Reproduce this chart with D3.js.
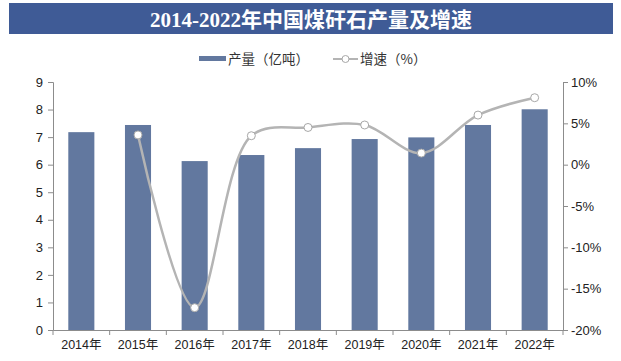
<!DOCTYPE html>
<html>
<head>
<meta charset="utf-8">
<script src="https://cdn.jsdelivr.net/npm/d3@7"></script>
<style>
  body { margin: 0; background: #fff; }
  svg text { font-family: "Liberation Sans", Arial, "Noto Sans CJK SC", sans-serif; }
</style>
</head>
<body>
<div id="chart"></div>
<script>
const years = ["2014年", "2015年", "2016年", "2017年", "2018年", "2019年", "2020年", "2021年", "2022年"];
const output = [7.18, 7.44, 6.13, 6.35, 6.6, 6.93, 6.99, 7.44, 8.01];
// growth starts in 2015
const growth = [null, 3.6, -17.3, 3.5, 4.5, 4.8, 1.4, 6.0, 8.1];
const leftTicks = [0, 1, 2, 3, 4, 5, 6, 7, 8, 9];
const rightTicks = [-20, -15, -10, -5, 0, 5, 10];

const W = 621, H = 361;
const margin = { top: 82, right: 58, bottom: 31, left: 53 };
const width = W - margin.left - margin.right;
const height = H - margin.top - margin.bottom;

const svg = d3.select("#chart").append("svg")
  .attr("width", W)
  .attr("height", H);

// title bar
svg.append("rect")
  .attr("x", 9).attr("y", 3)
  .attr("width", 604).attr("height", 31)
  .attr("fill", "#3f5b96");
svg.append("text")
  .attr("x", 311).attr("y", 19)
  .attr("dy", "0.36em")
  .attr("text-anchor", "middle")
  .attr("fill", "#fff")
  .style("font-family", "'Liberation Serif', 'Noto Sans CJK SC', serif")
  .style("font-weight", "bold")
  .style("font-size", "21px")
  .text("2014-2022年中国煤矸石产量及增速");

// legend
const leg = svg.append("g").attr("class", "legend");
leg.append("rect")
  .attr("x", 199).attr("y", 56)
  .attr("width", 27).attr("height", 5)
  .attr("fill", "#62789f");
leg.append("text")
  .attr("x", 228).attr("y", 59)
  .attr("dy", "0.35em")
  .attr("fill", "#333")
  .style("font-family", "'Noto Sans CJK SC', sans-serif")
  .style("font-size", "13.5px")
  .text("产量（亿吨）");
leg.append("line")
  .attr("x1", 333).attr("x2", 358)
  .attr("y1", 59).attr("y2", 59)
  .attr("stroke", "#b4b4b4")
  .attr("stroke-width", 2);
leg.append("circle")
  .attr("cx", 345.5).attr("cy", 59).attr("r", 3.5)
  .attr("fill", "#fff")
  .attr("stroke", "#a8a8a8")
  .attr("stroke-width", 1);
leg.append("text")
  .attr("x", 360).attr("y", 59)
  .attr("dy", "0.35em")
  .attr("fill", "#333")
  .style("font-family", "'Noto Sans CJK SC', sans-serif")
  .style("font-size", "13.5px")
  .text("增速（%）");

const g = svg.append("g")
  .attr("transform", "translate(" + margin.left + "," + margin.top + ")");

const x = d3.scaleBand().domain(years).range([0, width]).paddingInner(0.54).paddingOuter(0.27);
const xTick = d3.scaleBand().domain(years).range([0, width]);
const y = d3.scaleLinear().domain([0, 9]).range([height, 0]);
const y2 = d3.scaleLinear().domain([-20, 10]).range([height, 0]);

// bars
g.selectAll(".bar")
  .data(output)
  .enter()
  .append("rect")
  .attr("class", "bar")
  .attr("x", (d, i) => x(years[i]))
  .attr("y", d => y(d))
  .attr("width", x.bandwidth())
  .attr("height", d => height - y(d))
  .attr("fill", "#62789f");

// axes
const axisColor = "#8c8c8c";
const leftAxis = g.append("g")
  .attr("class", "y-axis")
  .call(d3.axisLeft(y).tickValues(leftTicks).tickSize(5).tickPadding(5));

const rightAxis = g.append("g")
  .attr("class", "y2-axis")
  .attr("transform", "translate(" + width + ",0)")
  .call(d3.axisRight(y2).tickValues(rightTicks).tickSize(5).tickPadding(3)
    .tickFormat(d => d + "%"));

const bottomAxis = g.append("g")
  .attr("class", "x-axis")
  .attr("transform", "translate(0," + height + ")")
  .call(d3.axisBottom(xTick).tickSize(0).tickPadding(10));

// bottom tick marks sit between categories
bottomAxis.selectAll(".cat-tick")
  .data(d3.range(years.length + 1))
  .enter()
  .append("line")
  .attr("class", "cat-tick")
  .attr("x1", i => i * xTick.step())
  .attr("x2", i => i * xTick.step())
  .attr("y1", 0).attr("y2", 5)
  .attr("stroke", axisColor);

[leftAxis, rightAxis, bottomAxis].forEach(a => {
  a.selectAll(".domain").attr("stroke", axisColor);
  a.selectAll(".tick line").attr("stroke", axisColor);
  a.selectAll("text")
    .attr("fill", "#222")
    .style("font-size", "13px");
});
bottomAxis.selectAll("text").style("font-size", "12.5px");

// growth line
const pts = growth
  .map((d, i) => ({ year: years[i], v: d }))
  .filter(d => d.v !== null);

const line = d3.line()
  .x(d => xTick(d.year) + xTick.bandwidth() / 2)
  .y(d => y2(d.v))
  .curve(d3.curveCatmullRom.alpha(0.5));

g.append("path")
  .datum(pts)
  .attr("fill", "none")
  .attr("stroke", "#b4b4b4")
  .attr("stroke-width", 2.5)
  .attr("stroke-linejoin", "round")
  .attr("stroke-linecap", "round")
  .attr("d", line);

g.selectAll(".dot")
  .data(pts)
  .enter()
  .append("circle")
  .attr("class", "dot")
  .attr("cx", d => xTick(d.year) + xTick.bandwidth() / 2)
  .attr("cy", d => y2(d.v))
  .attr("r", 4)
  .attr("fill", "#fff")
  .attr("stroke", "#a8a8a8")
  .attr("stroke-width", 1);
</script>
</body>
</html>
